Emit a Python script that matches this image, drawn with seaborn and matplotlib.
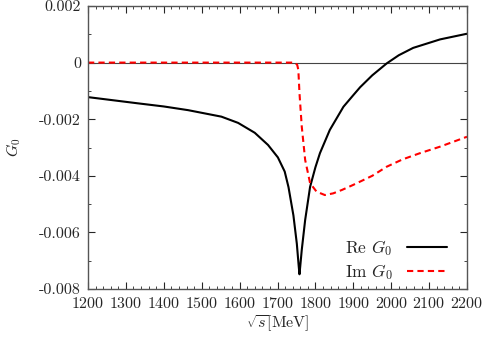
import numpy as np
import pandas as pd
import seaborn as sns
import matplotlib.pyplot as plt
from matplotlib.ticker import MultipleLocator

# values
re_s = [1200, 1266, 1332, 1400, 1464, 1552, 1596, 1640, 1675, 1701, 1719, 1729, 1742,
        1751, 1756, 1758, 1760, 1764, 1773, 1786, 1800, 1812, 1838, 1874, 1900, 1918,
        1950, 1988, 2020, 2058, 2129, 2200]
re_g0 = [-0.00122, -0.00133, -0.00144, -0.00155, -0.00168, -0.00191, -0.00213, -0.00248,
         -0.00291, -0.00335, -0.00385, -0.00440, -0.00540, -0.00640, -0.00720, -0.00748,
         -0.00720, -0.00662, -0.00556, -0.00439, -0.00370, -0.00320, -0.00238, -0.00156,
         -0.00115, -0.00087, -0.00045, -0.00003, 0.00026, 0.00052, 0.00082, 0.00102]

im_s = [1200, 1500, 1746, 1752, 1755, 1758, 1764, 1773, 1786, 1803, 1825, 1847, 1870,
        1900, 1950, 1988, 2030, 2076, 2129, 2200]
im_g0 = [0.0, 0.0, 0.0, -0.00008, -0.00026, -0.00108, -0.00226, -0.00344, -0.00426,
         -0.00456, -0.00468, -0.00462, -0.00450, -0.00432, -0.00400, -0.00368, -0.00342,
         -0.00320, -0.00297, -0.00262]

sns.set_style("ticks")
plt.rcParams['mathtext.fontset'] = 'cm'
plt.rcParams['font.serif'] = ['cmr10']
plt.rcParams['font.family'] = 'serif'
plt.rcParams['axes.formatter.use_mathtext'] = True
plt.rcParams['axes.unicode_minus'] = False

df_re = pd.DataFrame({'s': re_s, 'G0': re_g0})
df_im = pd.DataFrame({'s': im_s, 'G0': im_g0})

fig, ax = plt.subplots(figsize=(4.86, 3.37), dpi=100)
fig.subplots_adjust(left=88/486, right=467/486, top=1-6/337, bottom=1-289/337)

ax.axhline(0, color='#444444', lw=0.8, zorder=1)
sns.lineplot(data=df_re, x='s', y='G0', ax=ax, color='black', lw=1.5,
             sort=False, estimator=None, label=r'Re $G_0$')
sns.lineplot(data=df_im, x='s', y='G0', ax=ax, color='red', lw=1.5,
             sort=False, estimator=None, label=r'Im $G_0$')
ax.lines[-1].set_linestyle((0, (3, 2)))

ax.set_xlim(1200, 2200)
ax.set_ylim(-0.008, 0.002)
ax.xaxis.set_major_locator(MultipleLocator(100))
ax.xaxis.set_minor_locator(MultipleLocator(20))
ax.yaxis.set_minor_locator(MultipleLocator(0.001))
ax.set_yticks([0.002, 0, -0.002, -0.004, -0.006, -0.008])
ax.set_yticklabels(['0.002', '0', '-0.002', '-0.004', '-0.006', '-0.008'])
ax.tick_params(which='both', direction='in', top=True, right=True, labelsize=11.5, pad=5)
ax.tick_params(which='major', length=5)
ax.tick_params(which='minor', length=2.5)
for sp in ax.spines.values():
    sp.set_color('#555555')
    sp.set_linewidth(1.0)

ax.set_xlabel(r'$\sqrt{s}$[MeV]', fontsize=11.5, labelpad=2)
ax.set_ylabel(r'$G_0$', fontsize=11.5, labelpad=12)

leg = ax.legend(loc='lower right', bbox_to_anchor=(0.965, 0.0), frameon=False,
                markerfirst=False, fontsize=12.5, handlelength=2.3,
                borderaxespad=0, labelspacing=0.25)

fig.savefig('out.png', dpi=100)
